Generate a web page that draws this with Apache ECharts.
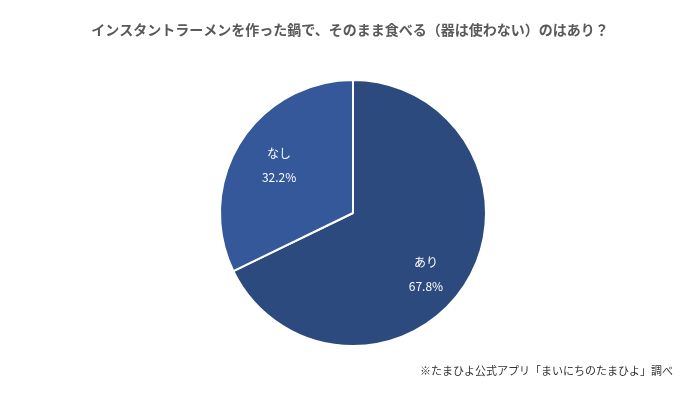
<!DOCTYPE html>
<html><head><meta charset="utf-8">
<script src="https://cdn.jsdelivr.net/npm/echarts@6/dist/echarts.min.js"></script>
<style>html,body{margin:0;background:#fff}#c{width:700px;height:405px}</style>
</head><body><div id="c"></div>
<script>
var names = ['あり', 'なし'];
var values = [67.8, 32.2];
var colors = ['#2d4a7f', '#34589a'];

var chart = echarts.init(document.getElementById('c'));
chart.setOption({
  title: [{
    text: 'インスタントラーメンを作った鍋で、そのまま食べる（器は使わない）のはあり？',
    left: 'center', top: 18,
    textStyle: { fontFamily: 'Noto Sans CJK JP', fontSize: 14, fontWeight: 'bold', color: '#595959' }
  }, {
    text: '※たまひよ公式アプリ「まいにちのたまひよ」調べ',
    right: 22, top: 360,
    textStyle: { fontFamily: 'Noto Sans CJK JP', fontSize: 11, fontWeight: 'normal', color: '#333' }
  }],
  series: [{
    type: 'pie',
    center: [353, 213],
    radius: 133,
    startAngle: 90,
    clockwise: true,
    itemStyle: { borderColor: '#fff', borderWidth: 2 },
    label: {
      position: 'inner',
      formatter: function (p) { return p.name + '\n\n' + p.value.toFixed(1) + '%'; },
      color: '#fff', fontSize: 12, fontFamily: 'Noto Sans CJK JP', lineHeight: 12
    },
    labelLayout: function (p) {
      return p.dataIndex === 0 ? { dx: 14, dy: 25 } : { dx: -15, dy: -11 };
    },
    labelLine: { show: false },
    data: names.map(function (n, i) { return { name: n, value: values[i], itemStyle: { color: colors[i] } }; })
  }]
});
</script></body></html>
